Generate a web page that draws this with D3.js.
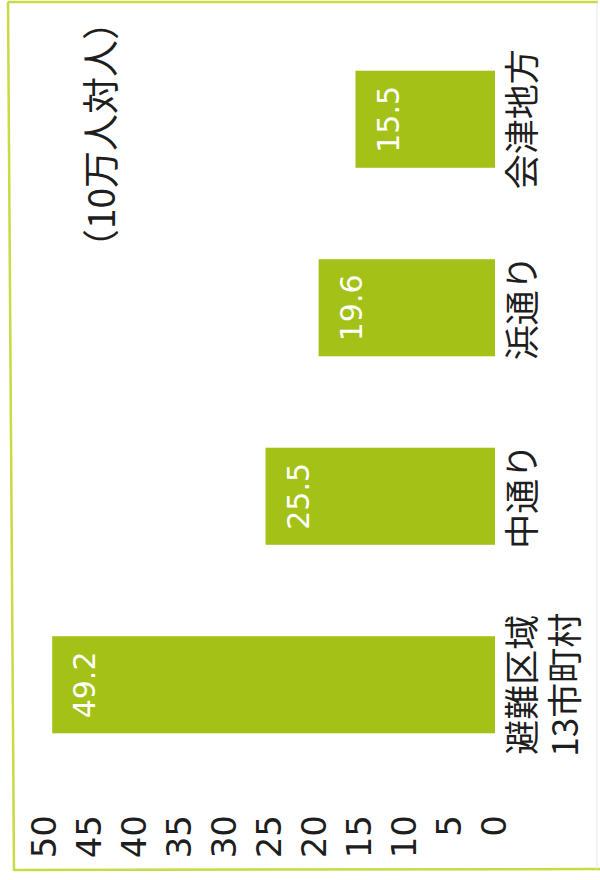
<!DOCTYPE html>
<html>
<head>
<meta charset="utf-8">
<script src="https://cdn.jsdelivr.net/npm/d3@7"></script>
<style>
	body { margin: 0; background: #fff; }
	svg { display: block; }
</style>
</head>
<body>
<svg id="chart" width="600" height="880"></svg>
<script>
const categories = [['避難区域', '13市町村'], ['中通り'], ['浜通り'], ['会津地方']]
const values = [49.2, 25.5, 19.6, 15.5]
const tick_values = [0, 5, 10, 15, 20, 25, 30, 35, 40, 45, 50]
const unit_label = '（10万人対人）'

document.addEventListener('DOMContentLoaded', function(event) {
	const svg = d3.select('#chart')

	// page frame (scanned, slightly slanted on the left)
	const frame = svg.append('g').attr('fill', 'none')
	frame.append('line').attr('x1', 8).attr('y1', 2).attr('x2', 14).attr('y2', 871)
		.attr('stroke', '#c9da45').attr('stroke-width', 2.5)
	frame.append('line').attr('x1', 8).attr('y1', 2).attr('x2', 598).attr('y2', 2)
		.attr('stroke', '#c9da45').attr('stroke-width', 2.5)
	frame.append('line').attr('x1', 14).attr('y1', 870).attr('x2', 600).attr('y2', 869)
		.attr('stroke', '#c9da45').attr('stroke-width', 2.5)
	frame.append('line').attr('x1', 597).attr('y1', 2).attr('x2', 597).attr('y2', 869)
		.attr('stroke', '#e6e6e6').attr('stroke-width', 1)

	// whole chart is drawn upright and then turned a quarter left
	const g = svg.append('g').attr('transform', 'translate(0,880) rotate(-90)')

	const x = d3.scaleBand()
		.domain(d3.range(categories.length))
		.range([109, 847])
		.paddingInner(0.485)
		.paddingOuter(0.2)

	const y = d3.scaleLinear()
		.domain([0, 50])
		.range([495, 45])

	const axis = d3.axisLeft(y)
		.tickValues(tick_values)
		.tickSize(0)
		.tickPadding(0)

	const ax = g.append('g')
		.attr('transform', 'translate(65,0)')
		.call(axis)
	ax.select('.domain').remove()
	ax.selectAll('text')
		.attr('font-family', 'DejaVu Sans')
		.attr('font-size', 34)
		.attr('fill', '#1e1e1e')

	g.append('g')
		.selectAll('rect')
		.data(values)
		.enter()
		.append('rect')
		.attr('x', (d, i) => x(i))
		.attr('y', d => y(d))
		.attr('width', x.bandwidth())
		.attr('height', d => y(0) - y(d))
		.attr('fill', '#a3c116')

	g.append('g')
		.selectAll('text')
		.data(values)
		.enter()
		.append('text')
		.attr('x', (d, i) => x(i) + 15)
		.attr('y', d => y(d) + 43)
		.attr('font-family', 'DejaVu Sans')
		.attr('font-size', 30)
		.attr('fill', '#fff')
		.text(d => d.toFixed(1))

	let labels = g.append('g')
		.selectAll('text')
		.data(categories)
		.enter()
		.append('text')
		.attr('font-family', 'Noto Sans CJK JP')
		.attr('font-size', 35)
		.attr('fill', '#1e1e1e')
		.attr('text-anchor', 'middle')

	labels.selectAll('tspan')
		.data((d, i) => d.map(t => ({t: t, i: i})))
		.enter()
		.append('tspan')
		.attr('x', d => x(d.i) + x.bandwidth() / 2)
		.attr('y', (d, j) => 535 + j * 43)
		.text(d => d.t)

	g.append('text')
		.attr('x', 877)
		.attr('y', 115)
		.attr('text-anchor', 'end')
		.attr('font-family', 'Noto Sans CJK JP')
		.attr('font-size', 37)
		.attr('fill', '#1e1e1e')
		.text(unit_label)
})
</script>
</body>
</html>
